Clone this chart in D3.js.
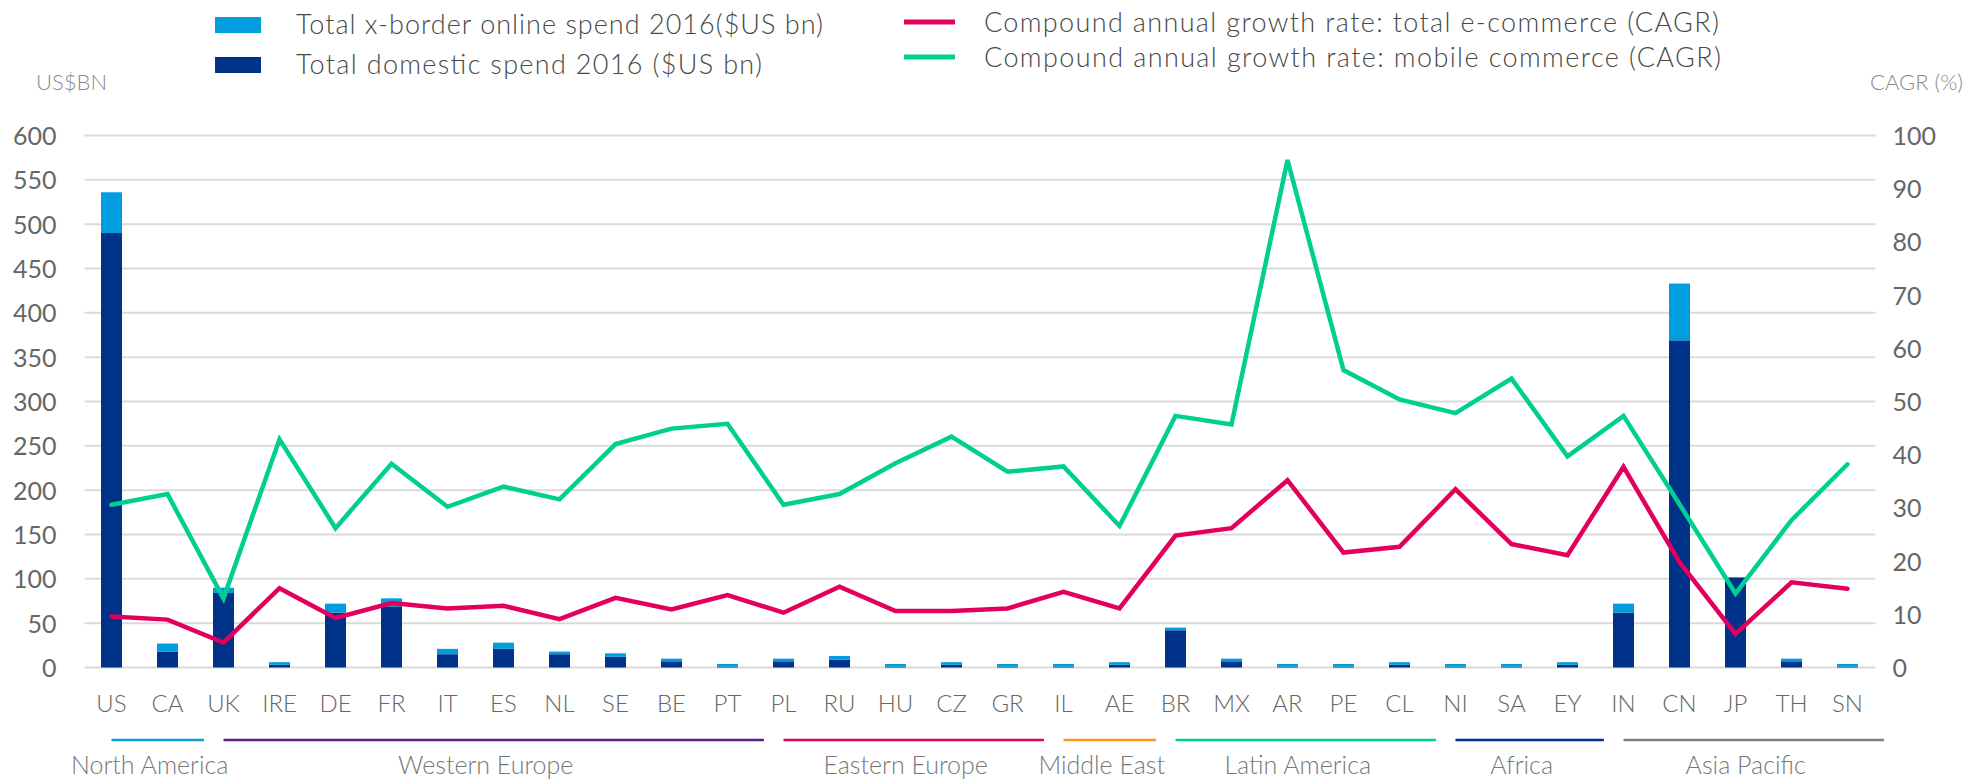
<!DOCTYPE html>
<html>
<head>
<meta charset="utf-8">
<script src="https://cdn.jsdelivr.net/npm/d3@7/dist/d3.min.js"></script>
<style>
  html, body { margin: 0; padding: 0; background: #ffffff; }
  svg { display: block; font-family: Lato, "Open Sans", sans-serif; font-weight: 300; }
</style>
</head>
<body>
<svg id="chart" width="1986" height="782"></svg>
<script>
// ---------- data ----------
const categories = ["US","CA","UK","IRE","DE","FR","IT","ES","NL","SE","BE","PT","PL","RU","HU","CZ","GR","IL","AE","BR","MX","AR","PE","CL","NI","SA","EY","IN","CN","JP","TH","SN"];
const domesticSpend = [490,18,84,3,62,69,15,21,15,12,7,1,7,9,1,3,1,1,3,42,7,1,1,3,1,1,3,62,369,101,7,1];
const crossBorderSpend = [46,9,6,3,10,9,6,7,3,4,3,3,3,4,3,3,3,3,3,3,3,3,3,3,3,3,3,10,64,1,3,3];
const cagrTotal = [9.6,9.0,4.7,14.9,9.3,12.1,11.1,11.6,9.1,13.1,10.9,13.6,10.3,15.2,10.6,10.6,11.1,14.2,11.1,24.8,26.2,35.2,21.6,22.7,33.5,23.2,21.1,37.7,19.8,6.3,16.0,14.8];
const cagrMobile = [30.6,32.6,13.0,42.9,26.2,38.3,30.2,34.0,31.6,42.0,44.9,45.8,30.6,32.6,38.4,43.4,36.8,37.8,26.6,47.3,45.7,95.4,55.9,50.4,47.8,54.3,39.7,47.3,30.7,13.9,27.7,38.2];
const leftTicks = [0,50,100,150,200,250,300,350,400,450,500,550,600];
const rightTicks = [0,10,20,30,40,50,60,70,80,90,100];
const regionNames = ["North America","Western Europe","Eastern Europe","Middle East","Latin America","Africa","Asia Pacific"];
const regionFirst = ["US","UK","PL","IL","BR","NI","IN"];
const regionLast  = ["CA","PT","GR","AE","CL","EY","SN"];
const regionColors = ["#0a9ad8","#5c1a86","#e1005f","#f7941d","#00cf91","#00338d","#808080"];
const legendBars = ["Total x-border online spend 2016($US bn)","Total domestic  spend 2016 ($US bn)"];
const legendLines = ["Compound annual growth rate: total e-commerce (CAGR)","Compound annual growth rate: mobile commerce (CAGR)"];

// ---------- styles ----------
const C = {
  light: "#009ede", navy: "#00328a", pink: "#e2005c", green: "#00cf91",
  grid: "#dadada", tick: "#666666", text: "#484848", unit: "#8a8a8a"
};
const legendBarWidths = [527, 466];
const legendLineWidths = [735, 737];

const svg = d3.select("#chart");
const plotL = 83.5, plotR = 1875.5, plotTop = 135.5, plotBottom = 667.5;

const x = d3.scaleBand().domain(categories).range([plotL, plotR])
  .paddingInner(0.625).paddingOuter(0.3125);
const step = x.step();
const cx = c => x(c) + x.bandwidth() / 2;
const yL = d3.scaleLinear().domain([0, 600]).range([plotBottom, plotTop]);
const yR = d3.scaleLinear().domain([0, 100]).range([plotBottom, plotTop]);

// gridlines
svg.append("g").selectAll("line").data(leftTicks).join("line")
  .attr("x1", plotL + 1).attr("x2", plotR)
  .attr("y1", d => yL(d)).attr("y2", d => yL(d))
  .attr("stroke", C.grid).attr("stroke-width", 2);

// left axis
const axL = svg.append("g").attr("transform", `translate(${plotL},0)`)
  .call(d3.axisLeft(yL).tickValues(leftTicks).tickSize(0).tickPadding(27));
axL.select(".domain").remove();
axL.selectAll("text").attr("font-size", 25).attr("fill", C.tick)
  .attr("font-family", "Lato, sans-serif").attr("font-weight", 400).attr("dy", "0.36em");

// right axis
const axR = svg.append("g").attr("transform", `translate(${plotR},0)`)
  .call(d3.axisRight(yR).tickValues(rightTicks).tickSize(0).tickPadding(17));
axR.select(".domain").remove();
axR.selectAll("text").attr("font-size", 25).attr("fill", C.tick)
  .attr("font-family", "Lato, sans-serif").attr("font-weight", 400).attr("dy", "0.36em");

// axis unit labels
svg.append("text").attr("x", 36).attr("y", 90).text("US$BN")
  .attr("font-size", 22).attr("fill", C.unit);
svg.append("text").attr("x", 1963).attr("y", 90).attr("text-anchor", "end").text("CAGR (%)")
  .attr("font-size", 22).attr("fill", C.unit);

// stacked bars
const stackData = categories.map((c, i) => ({ cat: c, dom: domesticSpend[i], xb: crossBorderSpend[i] }));
const bars = svg.append("g");
bars.selectAll("rect.dom").data(stackData).join("rect").attr("class", "dom")
  .attr("x", d => x(d.cat)).attr("width", x.bandwidth())
  .attr("y", d => yL(d.dom)).attr("height", d => yL(0) - yL(d.dom))
  .attr("fill", C.navy);
bars.selectAll("rect.xb").data(stackData).join("rect").attr("class", "xb")
  .attr("x", d => x(d.cat)).attr("width", x.bandwidth())
  .attr("y", d => yL(d.dom + d.xb)).attr("height", d => yL(d.dom) - yL(d.dom + d.xb))
  .attr("fill", C.light);

// lines
const line = d3.line().x(d => cx(d.cat)).y(d => yR(d.v));
svg.append("path").datum(categories.map((c, i) => ({ cat: c, v: cagrTotal[i] })))
  .attr("d", line).attr("fill", "none").attr("stroke", C.pink)
  .attr("stroke-width", 4.5).attr("stroke-linejoin", "miter").attr("stroke-linecap", "round");
svg.append("path").datum(categories.map((c, i) => ({ cat: c, v: cagrMobile[i] })))
  .attr("d", line).attr("fill", "none").attr("stroke", C.green)
  .attr("stroke-width", 4.5).attr("stroke-linejoin", "miter").attr("stroke-linecap", "round");

// category labels
svg.append("g").selectAll("text").data(categories).join("text")
  .attr("x", d => cx(d)).attr("y", 712).attr("text-anchor", "middle")
  .attr("font-size", 24).attr("fill", C.tick).text(d => d);

// region annotation
const regions = regionNames.map((n, i) => ({
  name: n, color: regionColors[i],
  x1: x(regionFirst[i]) + x.bandwidth() / 2 - step / 2 + step * 0.5,
  x2: x(regionLast[i]) + x.bandwidth() / 2 + step / 2 + step * 0.15
}));
const rg = svg.append("g");
rg.selectAll("line").data(regions).join("line")
  .attr("x1", d => d.x1).attr("x2", d => d.x2).attr("y1", 740).attr("y2", 740)
  .attr("stroke", d => d.color).attr("stroke-width", 2.5);
rg.selectAll("text").data(regions).join("text")
  .attr("x", d => (d.x1 + d.x2) / 2 - 8).attr("y", 774).attr("text-anchor", "middle")
  .attr("font-size", 25).attr("fill", "#777777").text(d => d.name);

// legend
const lg = svg.append("g");
[C.light, C.navy].forEach((col, i) => {
  lg.append("rect").attr("x", 215).attr("y", 17 + i * 40).attr("width", 46).attr("height", 16).attr("fill", col);
  lg.append("text").attr("x", 296).attr("y", 25 + i * 40).attr("dy", "0.35em")
    .attr("font-size", 27).attr("fill", C.text)
    .attr("textLength", legendBarWidths[i]).attr("lengthAdjust", "spacing")
    .text(legendBars[i]);
});
[C.pink, C.green].forEach((col, i) => {
  lg.append("line").attr("x1", 904).attr("x2", 955).attr("y1", 22 + i * 35).attr("y2", 22 + i * 35)
    .attr("stroke", col).attr("stroke-width", 5);
  lg.append("text").attr("x", 984).attr("y", 23 + i * 35).attr("dy", "0.35em")
    .attr("font-size", 27).attr("fill", C.text)
    .attr("textLength", legendLineWidths[i]).attr("lengthAdjust", "spacing")
    .text(legendLines[i]);
});
</script>
</body>
</html>
